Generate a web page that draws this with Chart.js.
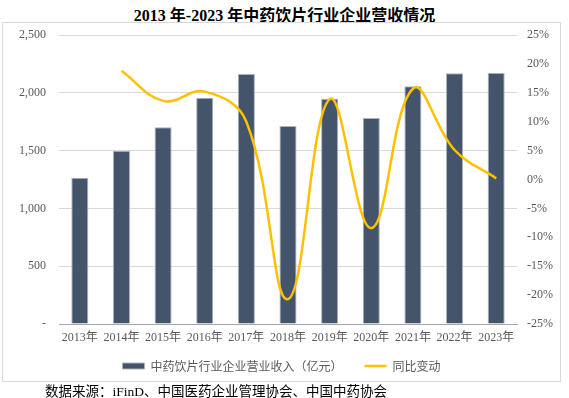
<!DOCTYPE html>
<html>
<head>
<meta charset="utf-8">
<script src="https://cdn.jsdelivr.net/npm/chart.js@4/dist/chart.umd.min.js"></script>
<style>
  body { margin: 0; width: 569px; height: 398px; background: #fff; position: relative; overflow: hidden; }
  #title { position: absolute; left: 0; top: 2px; width: 569px; text-align: center;
    font: bold 16px 'Liberation Serif', 'Noto Sans CJK SC', serif; color: #000; }
  #box { position: absolute; left: 2px; top: 22px; width: 557px; height: 358px; border: 1px solid #D9D9D9; }
  #source { position: absolute; left: 45px; top: 380px; font: 13.5px 'Liberation Serif', 'Noto Sans CJK SC', serif; color: #000; }
</style>
</head>
<body>
<div id="title">2013 年-2023 年中药饮片行业企业营收情况</div>
<div id="box"><canvas id="myChart" width="557" height="358"></canvas></div>
<div id="source">数据来源：iFinD、中国医药企业管理协会、中国中药协会</div>
<script>
// data
var years = ["2013年","2014年","2015年","2016年","2017年","2018年","2019年","2020年","2021年","2022年","2023年"];
var revenue = [1265, 1499, 1701, 1958, 2163, 1713, 1949, 1782, 2056, 2169, 2171];
var growth = [null, 18.8, 13.6, 15.2, 10, -20.7, 13.9, -8.4, 15.7, 5.1, 0.2];
var revenueLabel = "中药饮片行业企业营业收入（亿元）";
var growthLabel = "同比变动";

var serif = "'Liberation Serif', 'Times New Roman', 'Noto Sans CJK SC', serif";
var grey = "#595959";

// legend: keep wide gaps between items but sit it tighter under the axis
var legendTweak = {
  id: "legendTweak",
  afterInit: function(c){
    var lg = c.legend;
    var fit = lg.fit;
    lg.fit = function(){ fit.call(this); this.height = 31; };
  },
  afterLayout: function(c){
    c.legend.top -= 12;
  }
};

function sideAxis(width){
  return function(s){
    s.width = width;
    s.paddingTop = 7;
    s.paddingBottom = 7;
  };
}

var ctx = document.getElementById("myChart").getContext("2d");
var chart = new Chart(ctx, {
  type: "bar",
  data: {
    labels: years,
    datasets: [
      {
        type: "line",
        label: growthLabel,
        data: growth,
        yAxisID: "y1",
        borderColor: "#FFC000",
        backgroundColor: "#FFC000",
        borderWidth: 2.5,
        tension: 0.4,
        pointRadius: 0,
        pointStyle: "line",
        order: 0
      },
      {
        label: revenueLabel,
        data: revenue,
        yAxisID: "y",
        backgroundColor: "#44546A",
        borderColor: "#A9B2BF",
        borderWidth: 1,
        barPercentage: 0.41,
        categoryPercentage: 1,
        pointStyle: "rect",
        order: 1
      }
    ]
  },
  plugins: [legendTweak],
  options: {
    responsive: false,
    animation: false,
    layout: { padding: { top: 12, bottom: 0, left: 0, right: 0 } },
    plugins: {
      legend: {
        position: "bottom",
        reverse: true,
        labels: {
          usePointStyle: true,
          pointStyleWidth: 22,
          boxHeight: 6,
          padding: 22,
          color: grey,
          font: { family: "'Noto Sans CJK SC', sans-serif", size: 12 }
        }
      },
      tooltip: { enabled: false }
    },
    scales: {
      x: {
        grid: { display: false, drawTicks: false },
        border: { color: "#A6A6A6" },
        ticks: { color: grey, padding: 7, maxRotation: 0, font: { family: serif, size: 12 } },
        afterFit: function(s){ s.height = 26; }
      },
      y: {
        position: "left",
        min: 0, max: 2500,
        ticks: {
          stepSize: 500, color: grey, padding: 13,
          font: { family: serif, size: 12 },
          callback: function(v){ return v === 0 ? "-" : v.toLocaleString("en-US"); }
        },
        grid: { color: "#D9D9D9", drawTicks: false },
        border: { display: false },
        afterFit: sideAxis(56)
      },
      y1: {
        position: "right",
        min: -25, max: 25,
        ticks: {
          stepSize: 5, color: grey, padding: 10,
          font: { family: serif, size: 12 },
          callback: function(v){ return v + "%"; }
        },
        grid: { display: false, drawTicks: false },
        border: { display: false },
        afterFit: sideAxis(43)
      }
    }
  }
});
</script>
</body>
</html>
